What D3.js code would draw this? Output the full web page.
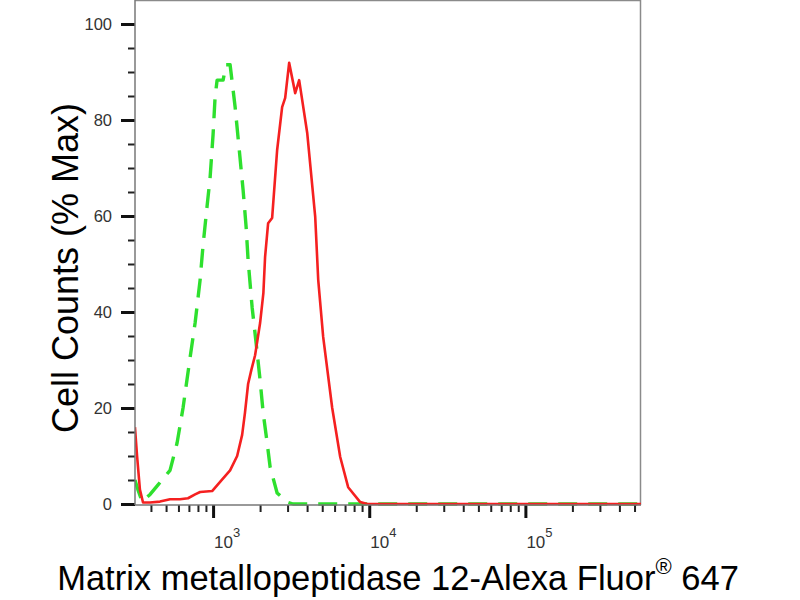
<!DOCTYPE html>
<html>
<head>
<meta charset="utf-8">
<script src="https://cdn.jsdelivr.net/npm/d3@7/dist/d3.min.js"></script>
<style>
  html, body { margin: 0; padding: 0; background: #fff; }
  svg { display: block; font-family: "Liberation Sans", Arial, sans-serif; }
</style>
</head>
<body>
<svg id="chart" width="800" height="600"></svg>
<script>
// ---- data ----
const redX = [316, 326, 340, 356, 395, 457, 530, 614, 691, 767, 826, 986, 1109, 1285, 1426, 1535, 1600, 1676, 1760, 1858, 2000, 2100, 2153, 2252, 2389, 2571, 2768, 2896, 3070, 3357, 3558, 4007, 4509, 4713, 5070, 5793, 6519, 7328, 8750, 9706, 20000, 100000, 550000];
const redY = [16, 10, 3, 0.3, 0.3, 0.5, 1, 1, 1.2, 2, 2.5, 2.7, 4.6, 7, 10, 14.4, 19, 25, 28, 31, 37.7, 44, 51.5, 58.5, 59.6, 73.7, 82.7, 84.6, 91.9, 85.6, 88.3, 77.3, 59.8, 46.7, 34.8, 20, 9.8, 3.5, 0.4, 0, 0, 0, 0];

const greenX = [316, 330, 351, 395, 444, 530, 588, 642, 713, 767, 826, 863, 915, 957, 1000, 1030, 1061, 1159, 1211, 1285, 1324, 1384, 1489, 1557, 1628, 1676, 1778, 1887, 2000, 2093, 2220, 2319, 2571, 2979, 3257, 10000, 100000, 550000];
const greenY = [5, 3, 0.5, 2, 4, 7, 12.7, 20, 30.6, 37.7, 46.7, 54, 62, 68, 77, 84.8, 88.3, 88.3, 91.5, 91.5, 88, 82.7, 72, 65.4, 57.7, 50.8, 41, 33.5, 25.8, 19, 12.7, 7.7, 2.3, 0.4, 0, 0, 0, 0];

const xMajorTicks = [1e3, 1e4, 1e5];
const xMajorExp = ["3", "4", "5"];
const xMinorTicks = [400, 500, 600, 700, 800, 900,
  2000, 3000, 4000, 5000, 6000, 7000, 8000, 9000,
  20000, 30000, 40000, 50000, 60000, 70000, 80000, 90000,
  200000, 300000, 400000, 500000];
const yMajorTicks = [0, 20, 40, 60, 80, 100];
const yMinorTicks = [5, 10, 15, 25, 30, 35, 45, 50, 55, 65, 70, 75, 85, 90, 95];

const xLabel = "Matrix metallopeptidase 12-Alexa Fluor";
const xLabelSup = "®";
const xLabelEnd = " 647";
const yLabel = "Cell Counts (% Max)";

// ---- layout ----
const svg = d3.select("#chart");
const L = 135, R = 641, T = 0, B = 505;

const x = d3.scaleLog().domain([316.2, 550000]).range([L, R]);
const y = d3.scaleLinear().domain([0, 100]).range([504, 24]);

// frame (top + right)
svg.append("path")
  .attr("d", `M${L},${T + 0.5} H${R - 0.5} V${B}`)
  .attr("fill", "none").attr("stroke", "#8a8a8a").attr("stroke-width", 1.5);

// clip
svg.append("defs").append("clipPath").attr("id", "plotclip")
  .append("rect").attr("x", L).attr("y", T).attr("width", R - L).attr("height", B - T + 2);

const line = d3.line().x(d => x(d[0])).y(d => y(d[1]));

const g = svg.append("g").attr("clip-path", "url(#plotclip)");
g.append("path")
  .datum(d3.zip(greenX, greenY))
  .attr("d", line)
  .attr("fill", "none").attr("stroke", "#2ee02e").attr("stroke-width", 3.4)
  .attr("stroke-dasharray", "19,11").attr("stroke-linejoin", "round");
g.append("path")
  .datum(d3.zip(redX, redY))
  .attr("d", line)
  .attr("fill", "none").attr("stroke", "#f52020").attr("stroke-width", 2.6)
  .attr("stroke-linejoin", "round");

// ---- x axis ----
const xMinorAxis = svg.append("g").attr("transform", `translate(0,${B})`)
  .call(d3.axisBottom(x).tickValues(xMinorTicks).tickSize(7).tickFormat(""));
xMinorAxis.select(".domain").remove();
xMinorAxis.selectAll(".tick line").attr("stroke", "#222").attr("stroke-width", 2);

const xMajorAxis = svg.append("g").attr("transform", `translate(0,${B})`)
  .call(d3.axisBottom(x).tickValues(xMajorTicks).tickSize(13).tickFormat(""));
xMajorAxis.select(".domain").remove();
xMajorAxis.selectAll(".tick line").attr("stroke", "#111").attr("stroke-width", 3);

svg.append("line").attr("x1", L).attr("x2", R).attr("y1", B).attr("y2", B)
  .attr("stroke", "#777").attr("stroke-width", 1.5);

xMajorTicks.forEach((v, i) => {
  const t = svg.append("text")
    .attr("x", x(v) + 1).attr("y", 548)
    .attr("font-size", 17).attr("fill", "#333").attr("text-anchor", "start");
  t.append("tspan").text("10");
  t.append("tspan").attr("dy", -11).attr("font-size", 13).text(xMajorExp[i]);
});

// ---- y axis ----
const yMinorAxis = svg.append("g").attr("transform", `translate(${L},0)`)
  .call(d3.axisLeft(y).tickValues(yMinorTicks).tickSize(7).tickFormat(""));
yMinorAxis.select(".domain").remove();
yMinorAxis.selectAll(".tick line").attr("stroke", "#222").attr("stroke-width", 2);

const yMajorAxis = svg.append("g").attr("transform", `translate(${L},0)`)
  .call(d3.axisLeft(y).tickValues(yMajorTicks).tickSize(14).tickPadding(9));
yMajorAxis.select(".domain").remove();
yMajorAxis.selectAll(".tick line").attr("stroke", "#111").attr("stroke-width", 3);
yMajorAxis.selectAll(".tick text")
  .attr("font-size", 16.5).attr("fill", "#333")
  .attr("font-family", "'Liberation Sans', Arial, sans-serif");

svg.append("line").attr("x1", L).attr("x2", L).attr("y1", T).attr("y2", B)
  .attr("stroke", "#777").attr("stroke-width", 1.5);

// ---- axis titles ----
const xt = svg.append("text")
  .attr("x", 398).attr("y", 590)
  .attr("text-anchor", "middle").attr("font-size", 34.5).attr("fill", "#000");
xt.append("tspan").text(xLabel);
xt.append("tspan").attr("dy", -16).attr("font-size", 22).text(xLabelSup);
xt.append("tspan").attr("dy", 16).text(xLabelEnd);

svg.append("text")
  .attr("transform", "translate(78,268) rotate(-90)")
  .attr("text-anchor", "middle").attr("font-size", 36).attr("fill", "#000")
  .text(yLabel);
</script>
</body>
</html>
